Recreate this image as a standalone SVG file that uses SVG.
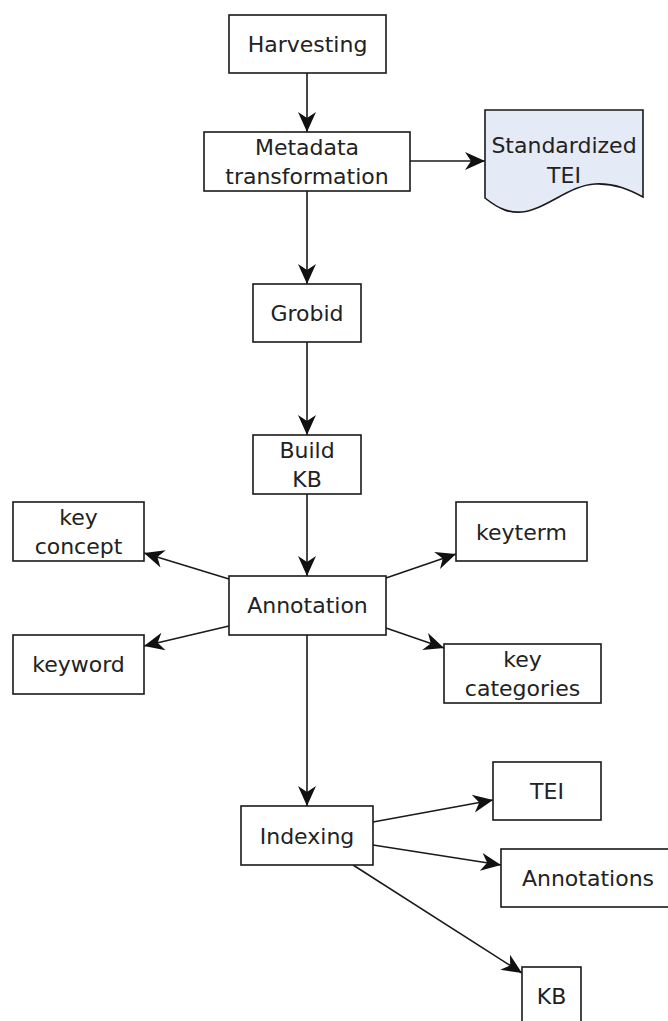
<svg xmlns="http://www.w3.org/2000/svg" width="668" height="1021" viewBox="0 0 668 1021">
<style>
.box{fill:#fff;stroke:#1a1a1a;stroke-width:1.6}
.doc{fill:#e5ebf6;stroke:#1a1a1a;stroke-width:1.6}
.t{font-family:"DejaVu Sans",sans-serif;font-size:22px;fill:#222;text-anchor:middle}
.e{fill:none;stroke:#1a1a1a;stroke-width:1.6;marker-end:url(#ah)}
</style>
<defs>
<marker id="ah" viewBox="-21 -10 22 20" refX="0" refY="0" markerWidth="22" markerHeight="20" markerUnits="userSpaceOnUse" orient="auto">
<path d="M0,0 L-20,-9 L-14,0 L-20,9 Z" fill="#111"/>
</marker>
</defs>
<rect width="668" height="1021" fill="#fff"/>
<g id="connectors">
<line class="e" x1="307" y1="73" x2="307" y2="132"/>
<line class="e" x1="410" y1="161" x2="485" y2="161"/>
<line class="e" x1="307" y1="191" x2="307" y2="284"/>
<line class="e" x1="307" y1="342" x2="307" y2="435"/>
<line class="e" x1="307" y1="494" x2="307" y2="576"/>
<line class="e" x1="229" y1="579" x2="144" y2="553"/>
<line class="e" x1="386" y1="578" x2="456" y2="554"/>
<line class="e" x1="229" y1="626" x2="144" y2="646"/>
<line class="e" x1="386" y1="628" x2="444" y2="648"/>
<line class="e" x1="307" y1="635" x2="307" y2="806"/>
<line class="e" x1="373" y1="822" x2="493" y2="800"/>
<line class="e" x1="373" y1="845" x2="501" y2="865"/>
<line class="e" x1="353" y1="865" x2="522" y2="973"/>
</g>
<g id="harvesting"><rect class="box" x="229" y="15" width="157" height="58"/><text class="t" x="307.5" y="52">Harvesting</text></g>
<g id="metadata"><rect class="box" x="204" y="132" width="206" height="59"/><text class="t" x="307" y="155">Metadata</text><text class="t" x="307" y="184">transformation</text></g>
<g id="standardized-tei"><path class="doc" d="M485,110 L643,110 L643,197 C630,190 615,183 595,184 C570,185 545,210 522,212 C510,213 500,210 485,198 Z"/><text class="t" x="564" y="153">Standardized</text><text class="t" x="564" y="183">TEI</text></g>
<g id="grobid"><rect class="box" x="253" y="284" width="108" height="58"/><text class="t" x="307" y="321">Grobid</text></g>
<g id="build-kb"><rect class="box" x="253" y="435" width="108" height="59"/><text class="t" x="307" y="458">Build</text><text class="t" x="307" y="487">KB</text></g>
<g id="annotation"><rect class="box" x="229" y="576" width="157" height="59"/><text class="t" x="307.5" y="613">Annotation</text></g>
<g id="key-concept"><rect class="box" x="13" y="502" width="131" height="59"/><text class="t" x="78.5" y="525">key</text><text class="t" x="78.5" y="554">concept</text></g>
<g id="keyterm"><rect class="box" x="456" y="502" width="131" height="59"/><text class="t" x="521.5" y="540">keyterm</text></g>
<g id="keyword"><rect class="box" x="13" y="635" width="131" height="59"/><text class="t" x="78.5" y="672">keyword</text></g>
<g id="key-categories"><rect class="box" x="444" y="644" width="157" height="59"/><text class="t" x="522.5" y="667">key</text><text class="t" x="522.5" y="696">categories</text></g>
<g id="indexing"><rect class="box" x="241" y="806" width="132" height="59"/><text class="t" x="307" y="844">Indexing</text></g>
<g id="tei"><rect class="box" x="493" y="762" width="108" height="58"/><text class="t" x="547" y="799">TEI</text></g>
<g id="annotations"><rect class="box" x="501" y="849" width="174" height="58"/><text class="t" x="588" y="886">Annotations</text></g>
<g id="kb"><rect class="box" x="522" y="967" width="59" height="60"/><text class="t" x="551.5" y="1004">KB</text></g>
</svg>
